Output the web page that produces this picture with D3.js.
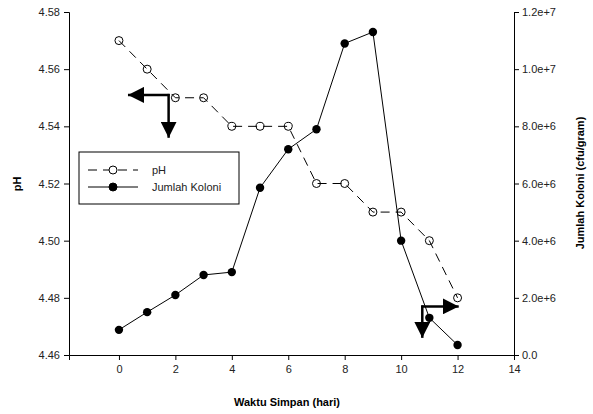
<!DOCTYPE html>
<html>
<head>
<meta charset="utf-8">
<script src="https://cdn.jsdelivr.net/npm/d3@7"></script>
<style>
  body { margin: 0; background: #fff; }
  svg text { font-family: "Liberation Sans", Arial, sans-serif; }
</style>
</head>
<body>
<svg id="chart" width="593" height="414"></svg>
<script>
// data
var days = [0, 1, 2, 3, 4, 5, 6, 7, 8, 9, 10, 11, 12];
var phValues = [4.57, 4.56, 4.55, 4.55, 4.54, 4.54, 4.54, 4.52, 4.52, 4.51, 4.51, 4.50, 4.48];
var koloniValues = [0.88e6, 1.5e6, 2.1e6, 2.8e6, 2.9e6, 5.85e6, 7.2e6, 7.9e6, 10.9e6, 11.3e6, 4.0e6, 1.3e6, 0.35e6];
var xTicks = [0, 2, 4, 6, 8, 10, 12, 14];
var phTicks = [4.46, 4.48, 4.50, 4.52, 4.54, 4.56, 4.58];
var koloniTicks = [0, 2e6, 4e6, 6e6, 8e6, 10e6, 12e6];
var koloniLabels = ["0.0", "2.0e+6", "4.0e+6", "6.0e+6", "8.0e+6", "1.0e+7", "1.2e+7"];
var legendNames = ["pH", "Jumlah Koloni"];
// arrow annotations in data units: corner, horizontal end, vertical end (pH scale)
var arrows = [
    {x: 1.76, y: 4.551, hx: 0.32, vy: 4.536},
    {x: 10.75, y: 4.477, hx: 12.04, vy: 4.466}
];

var svg = d3.select('#chart');
var plotLeft = 69, plotRight = 514, plotTop = 12, plotBottom = 355;

var xScale = d3.scaleLinear().domain([-1.77, 14]).range([plotLeft, plotRight]);
var yScale = d3.scaleLinear().domain([4.46, 4.58]).range([plotBottom, plotTop]);
var y2Scale = d3.scaleLinear().domain([0, 1.2e7]).range([plotBottom, plotTop]);

var xAxis = d3.axisBottom(xScale).tickValues(xTicks).tickSizeOuter(0).tickSize(5).tickPadding(5);
var yAxis = d3.axisLeft(yScale).tickValues(phTicks).tickFormat(d3.format('.2f')).tickSizeOuter(0).tickSize(5).tickPadding(4);
var y2Axis = d3.axisRight(y2Scale).tickValues(koloniTicks)
    .tickFormat(function(d, i) { return koloniLabels[i]; }).tickSizeOuter(0).tickSize(5).tickPadding(3);

function styleAxis(g) {
    g.selectAll('text').style('font-size', '11px').attr('fill', '#222');
    g.selectAll('line, path').attr('stroke', '#000');
}

svg.append('g').attr('transform', 'translate(0,' + plotBottom + ')').call(xAxis).call(styleAxis);
svg.append('g').attr('transform', 'translate(' + plotLeft + ',0)').call(yAxis).call(styleAxis);
svg.append('g').attr('transform', 'translate(' + plotRight + ',0)').call(y2Axis).call(styleAxis);

// axis titles
svg.append('text').attr('x', 287).attr('y', 406).attr('text-anchor', 'middle')
    .style('font-size', '11px').style('font-weight', 'bold').text('Waktu Simpan (hari)');
svg.append('text').attr('transform', 'translate(21,184) rotate(-90)').attr('text-anchor', 'middle')
    .style('font-size', '11px').style('font-weight', 'bold').text('pH');
svg.append('text').attr('transform', 'translate(584,183) rotate(-90)').attr('text-anchor', 'middle')
    .style('font-size', '11px').style('font-weight', 'bold').text('Jumlah Koloni (cfu/gram)');

// lines
var phLine = d3.line().x(function(d, i) { return xScale(days[i]); }).y(function(d) { return yScale(d); });
var kLine = d3.line().x(function(d, i) { return xScale(days[i]); }).y(function(d) { return y2Scale(d); });

svg.append('path').datum(phValues).attr('d', phLine)
    .attr('fill', 'none').attr('stroke', '#000').attr('stroke-width', 1).attr('stroke-dasharray', '9,6');
svg.append('path').datum(koloniValues).attr('d', kLine)
    .attr('fill', 'none').attr('stroke', '#000').attr('stroke-width', 1);

svg.append('g').selectAll('circle').data(phValues).enter().append('circle')
    .attr('cx', function(d, i) { return xScale(days[i]); })
    .attr('cy', function(d) { return yScale(d); })
    .attr('r', 4).attr('fill', 'none').attr('stroke', '#000').attr('stroke-width', 1);
svg.append('g').selectAll('circle').data(koloniValues).enter().append('circle')
    .attr('cx', function(d, i) { return xScale(days[i]); })
    .attr('cy', function(d) { return y2Scale(d); })
    .attr('r', 4.2).attr('fill', '#000');

// arrows
var defs = svg.append('defs');
defs.append('marker').attr('id', 'head').attr('viewBox', '0 0 16 16')
    .attr('refX', 16).attr('refY', 8).attr('markerWidth', 16).attr('markerHeight', 16)
    .attr('markerUnits', 'userSpaceOnUse').attr('orient', 'auto')
    .append('path').attr('d', 'M0,0 L16,8 L0,16 Z').attr('fill', '#000');

arrows.forEach(function(a) {
    var cx = xScale(a.x), cy = yScale(a.y);
    var dir = xScale(a.hx) < cx ? 1 : -1;
    svg.append('line').attr('x1', cx + dir).attr('y1', cy).attr('x2', xScale(a.hx)).attr('y2', cy)
        .attr('stroke', '#000').attr('stroke-width', 2.5).attr('marker-end', 'url(#head)');
    svg.append('line').attr('x1', cx).attr('y1', cy - 1).attr('x2', cx).attr('y2', yScale(a.vy))
        .attr('stroke', '#000').attr('stroke-width', 2.5).attr('marker-end', 'url(#head)');
});

// legend
var legend = svg.append('g').attr('transform', 'translate(79,152)');
legend.append('rect').attr('width', 160).attr('height', 52)
    .attr('fill', '#fff').attr('stroke', '#000').attr('stroke-width', 1);
legendNames.forEach(function(name, i) {
    var ly = 18 + i * 17;
    legend.append('line').attr('x1', 9).attr('x2', 59).attr('y1', ly).attr('y2', ly)
        .attr('stroke', '#000').attr('stroke-width', 1).attr('stroke-dasharray', i === 0 ? '9,6' : null);
    legend.append('circle').attr('cx', 34).attr('cy', ly).attr('r', 4)
        .attr('fill', i === 0 ? '#fff' : '#000').attr('stroke', '#000');
    legend.append('text').attr('x', 73).attr('y', ly + 4).style('font-size', '11px').attr('fill', '#222').text(name);
});
</script>
</body>
</html>
